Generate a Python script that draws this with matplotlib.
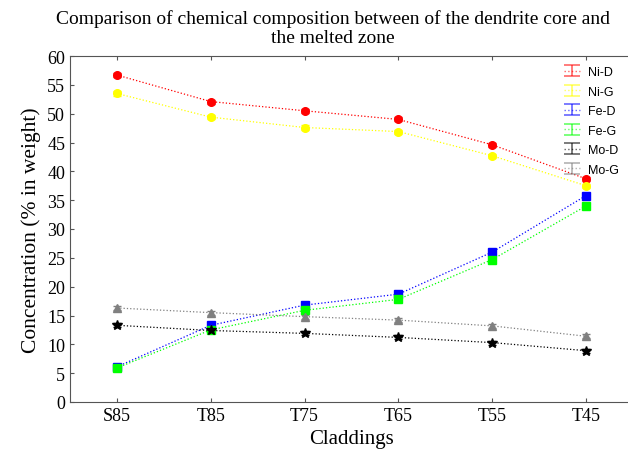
import matplotlib
matplotlib.use("Agg")
import matplotlib.pyplot as plt
from matplotlib.legend_handler import HandlerErrorbar
import numpy as np

categories = ["S85", "T85", "T75", "T65", "T55", "T45"]
ni_d = [56.7, 52.1, 50.5, 49.0, 44.6, 38.7]
ni_g = [53.5, 49.4, 47.6, 46.9, 42.7, 37.5]
fe_d = [6.1, 13.3, 16.8, 18.7, 26.0, 35.8]
fe_g = [5.9, 12.5, 15.9, 17.8, 24.7, 34.0]
mo_d = [13.3, 12.4, 11.9, 11.2, 10.3, 8.9]
mo_g = [16.3, 15.5, 14.8, 14.2, 13.2, 11.4]
err = 0.35

series = [
    ("Ni-D", ni_d, "#ff0000", "o"),
    ("Ni-G", ni_g, "#ffff00", "o"),
    ("Fe-D", fe_d, "#0000ff", "s"),
    ("Fe-G", fe_g, "#00ff00", "s"),
    ("Mo-D", mo_d, "#000000", "*"),
    ("Mo-G", mo_g, "#808080", "^"),
]

fig = plt.figure(figsize=(6.28, 4.64), dpi=100)
ax = fig.add_axes([70/628, 61/464, 563/628, 346/464])
x = np.arange(len(categories))
handles = []
for name, vals, col, mk in series:
    ax.errorbar(x, vals, yerr=err, color=col, marker=mk,
                markersize=5.5 if mk != "*" else 7.5,
                linestyle=":", linewidth=0.9, capsize=3, elinewidth=1)
    # legend-only proxy (placed outside the visible range)
    handles.append(ax.errorbar([-10], [-10], yerr=[1], color=col, alpha=0.6,
                               linestyle=":", linewidth=1, capsize=6,
                               elinewidth=1.2, capthick=1.2, label=name))

ax.set_xlim(-0.5, 5.5)
ax.set_ylim(0, 60)
ax.set_yticks(np.arange(0, 61, 5))
ax.set_xticks(x)
ax.set_xticklabels(categories)
serif = "Liberation Serif"
for lab in ax.get_xticklabels() + ax.get_yticklabels():
    lab.set_fontfamily(serif)
    lab.set_fontsize(13)
ax.tick_params(direction="in", top=True, right=False, length=3, color="#555555")
ax.spines["right"].set_visible(False)
for s in ["left", "bottom", "top"]:
    ax.spines[s].set_color("#555555")
ax.set_xlabel("Claddings", fontfamily=serif, fontsize=15)
ax.set_ylabel("Concentration (% in weight)", fontfamily=serif, fontsize=15.5)

fig.text(333/628, 1 - 29/464,
         "Comparison of chemical composition between of the dendrite core and\nthe melted zone",
         ha="center", va="center", fontfamily=serif, fontsize=14, linespacing=1.15)

leg = ax.legend(handles=handles, loc="upper left", bbox_to_anchor=(0.89, 0.866),
                bbox_transform=fig.transFigure,
                handler_map={type(handles[0]): HandlerErrorbar(yerr_size=0.45)},
                frameon=False, prop={"family": "Liberation Sans", "size": 9},
                handlelength=1.3, handletextpad=0.6, labelspacing=0.6, borderaxespad=0)

fig.savefig("out.png", dpi=100)
